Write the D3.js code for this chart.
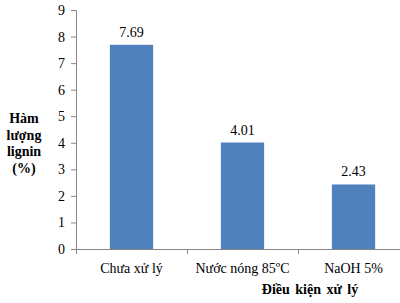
<!DOCTYPE html>
<html>
<head>
<meta charset="utf-8">
<script src="https://cdn.jsdelivr.net/npm/d3@7"></script>
<style>
  body { margin: 0; background: #fff; }
  svg text { font-family: "Liberation Serif", "Times New Roman", serif; fill: #000; }
</style>
</head>
<body>
<div id="chart"></div>
<script>
// data
const categories = ["Chưa xử lý", "Nước nóng 85ºC", "NaOH 5%"];
const values = [7.69, 4.01, 2.43];
const yTicks = [0, 1, 2, 3, 4, 5, 6, 7, 8, 9];
const yTitle = ["Hàm", "lượng", "lignin", "(%)"];
const xTitle = "Điều kiện xử lý";

let width = 400, height = 303;
let svg = d3.select("#chart").append("svg")
    .attr("width", width)
    .attr("height", height);

let x = d3.scaleBand()
    .domain(categories)
    .range([76, 409])
    .paddingInner(0.61)
    .paddingOuter(0.305);

let y = d3.scaleLinear()
    .domain([0, 9])
    .range([249, 10]);

const axisColor = "#868686";

// y axis
let yAxis = svg.append("g")
    .attr("transform", "translate(76,0)")
    .call(d3.axisLeft(y).tickValues(yTicks).tickSize(5).tickPadding(6).tickFormat(d3.format("d")));
yAxis.select(".domain").attr("stroke", axisColor);
yAxis.selectAll(".tick line").attr("stroke", axisColor);
yAxis.selectAll("text").style("font-size", "14px").attr("fill", "#000");

// x axis: line + ticks at band boundaries
let xg = svg.append("g");
xg.append("line")
    .attr("x1", 76).attr("x2", 400)
    .attr("y1", y(0) + 0.5).attr("y2", y(0) + 0.5)
    .attr("stroke", axisColor);
let step = x.step();
[0, 1, 2].forEach(i => {
    let xx = Math.round(76 + i * step) + 0.5;
    xg.append("line")
        .attr("x1", xx).attr("x2", xx)
        .attr("y1", y(0)).attr("y2", y(0) + 5)
        .attr("stroke", axisColor);
});

// bars
svg.selectAll("rect.bar")
    .data(values)
    .enter().append("rect")
    .attr("class", "bar")
    .attr("x", (d, i) => x(categories[i]))
    .attr("width", x.bandwidth())
    .attr("y", d => y(d))
    .attr("height", d => y(0) - y(d))
    .attr("fill", "#4F81BD");

// value labels
svg.selectAll("text.val")
    .data(values)
    .enter().append("text")
    .attr("class", "val")
    .attr("x", (d, i) => x(categories[i]) + x.bandwidth() / 2)
    .attr("y", d => y(d) - 8)
    .attr("text-anchor", "middle")
    .style("font-size", "14px")
    .text(d => d.toFixed(2));

// category labels
svg.selectAll("text.cat")
    .data(categories)
    .enter().append("text")
    .attr("class", "cat")
    .attr("x", d => x(d) + x.bandwidth() / 2)
    .attr("y", 273)
    .attr("text-anchor", "middle")
    .style("font-size", "14px")
    .text(d => d);

// axis titles
svg.append("text")
    .attr("x", 310)
    .attr("y", 294)
    .attr("text-anchor", "middle")
    .style("font-size", "14px")
    .style("font-weight", "bold")
    .style("word-spacing", "2px")
    .text(xTitle);

svg.append("g").selectAll("text")
    .data(yTitle)
    .enter().append("text")
    .attr("x", 24)
    .attr("y", (d, i) => 123 + i * 16.7)
    .attr("text-anchor", "middle")
    .style("font-size", "14px")
    .style("font-weight", "bold")
    .text(d => d);
</script>
</body>
</html>
